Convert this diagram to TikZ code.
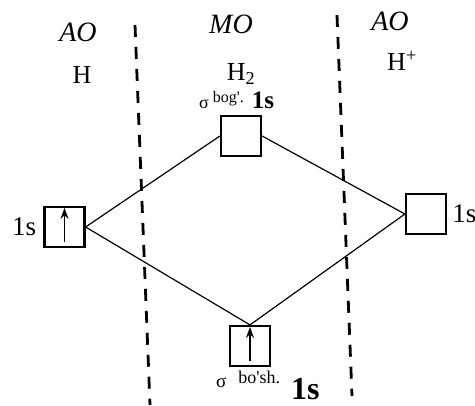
\documentclass[tikz,border=0pt]{standalone}
\usepackage{fontspec}
\setmainfont{Liberation Serif}
\usetikzlibrary{arrows.meta,positioning}

\begin{document}
\begin{tikzpicture}[x=1pt,y=-1pt,
  orb/.style={draw,line width=2.2pt,minimum size=40pt,inner sep=0pt},
  lvl/.style={line width=1.2pt},
  spin/.style={-{Stealth[length=11pt,width=8pt]},line width=1.6pt,shorten <=6pt,shorten >=2pt},
  sep/.style={line width=2.8pt,dash pattern=on 12pt off 10pt},
  head/.style={font=\fontsize{26}{28}\selectfont,inner sep=0pt},
  lbl/.style={font=\fontsize{27}{29}\selectfont,inner sep=0pt}]
\useasboundingbox (0,0) rectangle (475,406);
% separators
\coordinate (sepLa) at (135,25);
\coordinate (sepLb) at (150,405);
\coordinate (sepRa) at (337,15);
\coordinate (sepRb) at (352,396);
\draw[sep] (sepLa) -- (sepLb);
\draw[sep] (sepRa) -- (sepRb);
% headings
\node[head,font=\fontsize{28}{30}\selectfont\itshape] (aoL) at (78,32) {AO};
\node[head] (hL) at (82,75) {H};
\node[head,font=\fontsize{28}{30}\selectfont\itshape] (mo) at (231,24) {MO};
\node[head] (hTwo) at (241,74) {H\textsubscript{2}};
\node[head,font=\fontsize{28}{30}\selectfont\itshape] (aoR) at (390,21) {AO};
\node[head] (hR) at (402,61) {H\textsuperscript{+}};
% orbitals
\node[orb] (hA) at (64.5,227) {};
\node[orb] (mAnti) at (241,136) {};
\node[orb] (mBond) at (250,346) {};
\node[orb] (hP) at (426,214) {};
\node[lbl,left=7pt of hA] (sA) {1s};
\node[lbl,right=5pt of hP] (sP) {1s};
\node[anchor=base west,inner sep=0pt] (labAnti) at (199,109)
  {\fontsize{18}{18}\selectfont σ\hspace{4pt}\raisebox{6pt}{\fontsize{16}{16}\selectfont bog\textquotesingle.}\hspace{8pt}\fontsize{25}{25}\selectfont\bfseries 1s};
\node[anchor=base west,inner sep=0pt] (labBond) at (216,388)
  {\fontsize{19}{19}\selectfont σ\hspace{12pt}\raisebox{4pt}{\fontsize{18}{18}\selectfont bo\textquotesingle sh.}\hspace{11pt}\raisebox{-12pt}{\fontsize{32}{32}\selectfont\bfseries 1s}};
% electrons
\draw[spin] (hA.south) -- (hA.north);
\draw[spin] (mBond.south) -- (mBond.north);
% correlation lines
\draw[lvl] (hA.east) -- (mAnti.west);
\draw[lvl] (hA.east) -- (mBond.north);
\draw[lvl] (mAnti.east) -- (hP.west);
\draw[lvl] (mBond.north) -- (hP.west);
\end{tikzpicture}
\end{document}
